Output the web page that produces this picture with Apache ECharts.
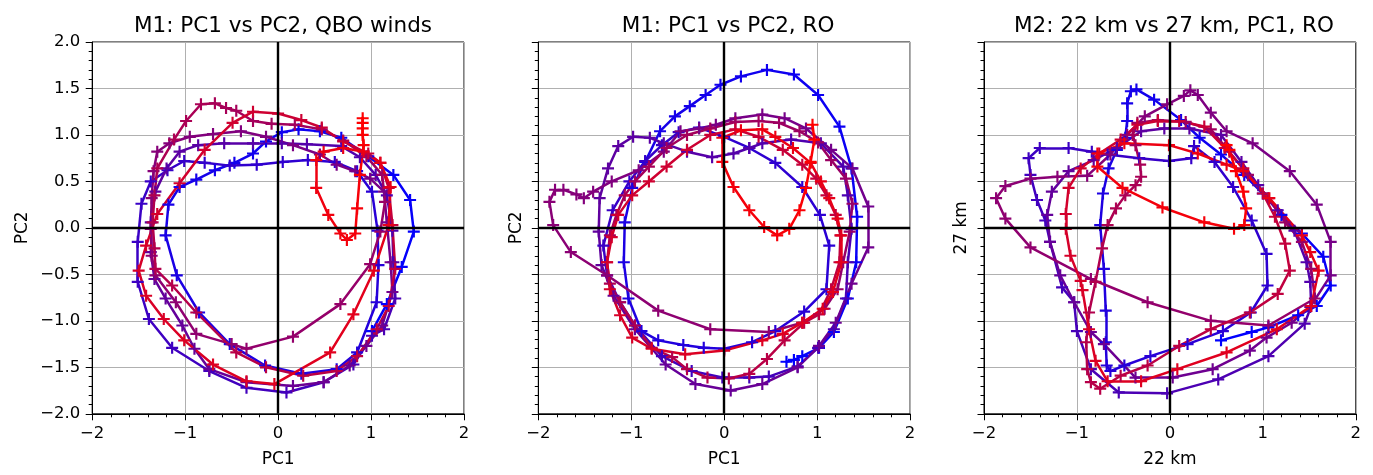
<!DOCTYPE html>
<html>
<head>
<meta charset="utf-8">
<script src="https://cdn.jsdelivr.net/npm/echarts@6/dist/echarts.min.js"></script>
<style>
html,body{margin:0;padding:0;background:#fff;}
#c{width:1373px;height:475px;}
</style>
</head>
<body>
<div id="c"></div>
<script>
// ---- Data, in time order: blue (early) -> red (late)
const titles = ['M1: PC1 vs PC2, QBO winds', 'M1: PC1 vs PC2, RO', 'M2: 22 km vs 27 km, PC1, RO'];
const xNames = ['PC1', 'PC1', '22 km'];
const yNames = ['PC2', 'PC2', '27 km'];

const m1QboPath = [
[1.01,-1.11],[1.17,-0.82],[1.33,-0.42],[1.46,-0.04],[1.42,0.30],[1.24,0.57],[0.97,0.77],[0.68,0.97],[0.45,1.04],[0.22,1.06],[0.04,1.03],[-0.13,0.93],[-0.27,0.80],[-0.47,0.70],[-0.68,0.62],[-0.88,0.52],[-1.06,0.44],[-1.18,0.25],[-1.21,-0.08],[-1.09,-0.51],[-0.85,-0.91],[-0.52,-1.25],[-0.14,-1.48],[0.25,-1.57],[0.63,-1.52],[0.85,-1.34],
[1.06,-0.80],[1.08,-0.40],[1.07,-0.03],[1.01,0.39],[0.85,0.61],[0.61,0.71],[0.32,0.73],[0.05,0.71],[-0.23,0.68],[-0.52,0.67],[-0.79,0.70],[-1.01,0.72],[-1.19,0.62],[-1.37,0.50],[-1.47,0.26],[-1.51,-0.15],[-1.51,-0.58],[-1.39,-0.98],[-1.14,-1.29],[-0.74,-1.54],[-0.34,-1.72],[0.09,-1.77],[0.49,-1.66],[0.81,-1.47],[1.01,-1.16],
[1.14,-1.09],[1.26,-0.76],[1.24,-0.37],[1.23,-0.03],[1.17,0.35],[1.05,0.57],[0.88,0.76],[0.68,0.88],[0.31,0.90],[0.04,0.91],[-0.27,0.91],[-0.58,0.91],[-0.86,0.89],[-1.06,0.82],[-1.20,0.64],[-1.32,0.39],[-1.37,0.06],[-1.37,-0.26],[-1.33,-0.55],[-1.21,-0.76],[-1.03,-1.05],[-0.90,-1.30],[-0.74,-1.52],[-0.34,-1.66],[0.16,-1.70],[0.49,-1.66],[0.77,-1.48],[0.95,-1.27],
[1.12,-1.05],[1.23,-0.69],[1.21,-0.37],[1.17,0.06],[1.14,0.39],[0.99,0.53],[0.83,0.61],[0.63,0.68],[0.45,0.79],[0.16,0.89],[-0.13,0.98],[-0.40,1.04],[-0.70,1.01],[-0.95,0.98],[-1.17,0.91],[-1.30,0.82],[-1.34,0.61],[-1.36,0.32],[-1.37,-0.01],[-1.36,-0.30],[-1.32,-0.51],[-1.10,-0.80],[-0.88,-1.14],[-0.50,-1.25],[-0.34,-1.30],[0.16,-1.17],[0.67,-0.82],[0.99,-0.39],[1.10,-0.04],
[1.15,0.28],[1.12,0.57],[0.95,0.77],[0.70,0.94],[0.47,1.06],[0.18,1.11],[-0.07,1.12],[-0.27,1.15],[-0.45,1.26],[-0.56,1.29],[-0.68,1.34],[-0.83,1.33],[-0.99,1.15],[-1.12,0.95],[-1.30,0.64],[-1.33,0.35],[-1.35,0.06],[-1.33,-0.22],[-1.32,-0.44],[-1.14,-0.62],[-0.88,-0.91],[-0.45,-1.34],[-0.13,-1.50],[0.27,-1.59],[0.63,-1.54],[0.85,-1.38],[1.06,-1.09],[1.19,-0.84],[1.26,-0.44],[1.23,0.03],[1.19,0.43],[1.10,0.70],[0.97,0.80],
[0.70,0.93],[0.47,1.08],[0.25,1.16],[0.00,1.23],[-0.27,1.25],[-0.49,1.13],[-0.79,0.84],[-1.06,0.48],[-1.30,0.15],[-1.42,-0.19],[-1.50,-0.46],[-1.42,-0.73],[-1.23,-0.98],[-1.01,-1.21],[-0.70,-1.47],[-0.34,-1.65],[-0.04,-1.68],[0.56,-1.34],[0.81,-0.93],[1.03,-0.46],[1.19,0.03],[1.21,0.44],[1.10,0.70],[0.92,0.82],[0.70,0.86],[0.49,0.82],[0.41,0.73],[0.41,0.43],[0.54,0.14],[0.67,-0.06],[0.74,-0.13],[0.83,-0.06],[0.85,0.21],[0.88,0.57],[0.92,0.89],[0.91,1.00],[0.91,1.07],[0.91,1.13],[0.91,1.18]
];

const m1RoPath = [
[0.67,-1.44],[0.75,-1.42],[0.84,-1.38],[1.02,-1.29],[1.18,-1.12],[1.33,-0.76],[1.42,-0.37],[1.43,0.12],[1.37,0.64],[1.24,1.09],[1.01,1.43],[0.75,1.65],[0.46,1.70],[0.18,1.63],[-0.04,1.54],[-0.20,1.43],[-0.37,1.31],[-0.53,1.20],[-0.69,1.04],[-0.85,0.71],[-0.99,0.43],[-1.07,0.06],[-1.08,-0.37],[-1.03,-0.76],[-0.89,-1.11],[-0.71,-1.21],[-0.44,-1.26],[-0.22,-1.29],[0.00,-1.30],[0.30,-1.23],[0.55,-1.11],[0.86,-0.90],
[1.10,-0.66],[1.13,-0.19],[1.03,0.14],[0.84,0.44],[0.55,0.70],[0.27,0.86],[0.00,0.98],[-0.27,1.08],[-0.49,1.03],[-0.67,0.89],[-0.85,0.72],[-1.02,0.50],[-1.20,0.19],[-1.30,-0.19],[-1.26,-0.51],[-1.12,-0.80],[-0.96,-1.05],[-0.67,-1.38],[-0.35,-1.54],[-0.02,-1.61],[0.27,-1.61],[0.48,-1.60],[0.79,-1.49],[1.01,-1.29],[1.18,-1.09],[1.31,-0.76],
[1.33,-0.37],[1.37,-0.01],[1.33,0.35],[1.28,0.66],[1.04,0.91],[0.72,0.95],[0.41,0.91],[0.27,0.86],[0.10,0.80],[-0.13,0.76],[-0.40,0.82],[-0.65,0.91],[-0.80,0.97],[-0.98,0.98],[-1.14,0.88],[-1.25,0.64],[-1.34,0.32],[-1.35,-0.04],[-1.32,-0.40],[-1.19,-0.73],[-0.96,-1.09],[-0.63,-1.47],[-0.31,-1.68],[0.07,-1.75],[0.41,-1.68],[0.79,-1.50],[1.02,-1.27],[1.20,-1.02],
[1.37,-0.60],[1.55,-0.21],[1.55,0.23],[1.38,0.64],[1.15,0.84],[0.88,1.07],[0.65,1.18],[0.41,1.22],[0.12,1.18],[-0.09,1.11],[-0.27,1.07],[-0.47,1.04],[-0.65,0.82],[-0.92,0.62],[-1.21,0.50],[-1.41,0.39],[-1.51,0.32],[-1.59,0.36],[-1.73,0.41],[-1.82,0.41],[-1.88,0.28],[-1.84,0.03],[-1.65,-0.26],[-1.26,-0.51],[-0.71,-0.89],[-0.15,-1.09],[0.48,-1.12],[0.84,-1.02],[1.08,-0.87],[1.22,-0.66],
[1.28,-0.37],[1.35,-0.04],[1.38,0.26],[1.31,0.53],[1.15,0.73],[1.01,0.92],[0.81,1.04],[0.59,1.13],[0.37,1.15],[0.12,1.14],[-0.15,1.07],[-0.40,1.00],[-0.62,0.86],[-0.81,0.66],[-0.96,0.50],[-1.07,0.35],[-1.16,0.14],[-1.23,-0.08],[-1.26,-0.37],[-1.23,-0.60],[-1.12,-0.80],[-0.96,-1.05],[-0.78,-1.29],[-0.56,-1.39],[-0.40,-1.52],[-0.18,-1.61],[0.05,-1.62],[0.27,-1.57],[0.46,-1.41],[0.65,-1.21],[0.86,-1.02],[1.02,-0.93],
[1.15,-0.66],[1.24,-0.37],[1.25,-0.08],[1.20,0.14],[1.10,0.35],[0.99,0.53],[0.84,0.68],[0.63,0.84],[0.37,0.98],[0.12,1.06],[-0.15,1.00],[-0.40,0.84],[-0.62,0.66],[-0.81,0.50],[-0.99,0.35],[-1.14,0.14],[-1.21,-0.10],[-1.26,-0.37],[-1.23,-0.66],[-1.12,-0.94],[-0.99,-1.18],[-0.78,-1.30],[-0.42,-1.36],[0.00,-1.32],[0.41,-1.21],[0.63,-1.14],[0.84,-1.02],[1.06,-0.87],[1.17,-0.69],[1.26,-0.37],[1.26,-0.08],[1.22,0.10],[1.13,0.32],[1.04,0.50],[0.93,0.70],[0.74,0.86],[0.55,0.98],[0.41,1.06],[0.18,1.05],[-0.02,0.97],[-0.02,0.71],[0.10,0.44],[0.27,0.19],[0.43,0.01],[0.57,-0.08],[0.70,-0.01],[0.81,0.19],[0.88,0.43],[0.93,0.71],[0.97,0.95],[0.95,1.11]
];

const m2RoPath = [
[0.55,-1.21],[0.88,-1.12],[1.06,-1.07],[1.38,-0.94],[1.58,-0.84],[1.73,-0.62],[1.65,-0.31],[1.42,-0.06],[1.20,0.14],[1.00,0.37],[0.80,0.57],[0.55,0.79],[0.32,0.97],[0.12,1.16],[-0.17,1.38],[-0.36,1.49],[-0.42,1.47],[-0.46,1.34],[-0.46,1.15],[-0.48,0.97],[-0.57,0.84],[-0.66,0.64],[-0.72,0.37],[-0.75,0.03],[-0.71,-0.44],[-0.69,-0.89],[-0.69,-1.23],[-0.68,-1.48],[-0.64,-1.54],[-0.49,-1.48],[-0.21,-1.38],[0.19,-1.25],[0.57,-1.11],[0.87,-0.91],[1.05,-0.62],[1.04,-0.28],[0.88,0.08],[0.68,0.44],[0.48,0.71],[0.26,0.88],
[0.23,0.75],[-0.01,0.72],[-0.33,0.75],[-0.67,0.79],[-0.84,0.82],[-1.09,0.86],[-1.40,0.86],[-1.52,0.75],[-1.50,0.57],[-1.43,0.30],[-1.34,0.08],[-1.29,-0.15],[-1.16,-0.64],[-1.03,-0.80],[-1.00,-1.11],[-0.85,-1.52],[-0.55,-1.77],[-0.03,-1.78],[0.52,-1.63],[1.06,-1.38],[1.45,-1.03],[1.52,-0.84],
[1.51,-0.58],[1.47,-0.37],[1.34,-0.03],[1.16,0.19],[0.95,0.46],[0.77,0.71],[0.55,1.00],[0.21,1.07],[-0.06,1.07],[-0.31,1.04],[-0.57,0.86],[-0.82,0.73],[-1.09,0.61],[-1.27,0.39],[-1.32,0.14],[-1.29,-0.15],[-1.18,-0.51],[-1.03,-0.80],[-0.85,-1.12],[-0.71,-1.25],[-0.37,-1.61],[0.03,-1.61],[0.46,-1.52],[0.86,-1.32],[1.04,-1.18],[1.31,-1.02],[1.51,-0.85],
[1.73,-0.51],[1.73,-0.15],[1.58,0.25],[1.29,0.61],[0.89,0.91],[0.61,1.04],[0.44,1.24],[0.30,1.43],[0.22,1.48],[0.15,1.42],[-0.03,1.33],[-0.27,1.20],[-0.46,1.00],[-0.64,0.79],[-0.89,0.56],[-1.21,0.55],[-1.50,0.53],[-1.77,0.45],[-1.87,0.32],[-1.77,0.10],[-1.50,-0.21],[-0.85,-0.55],[-0.24,-0.80],[0.44,-1.00],[1.06,-1.05],[1.56,-0.76],
[1.52,-0.44],[1.42,-0.15],[1.24,0.06],[1.06,0.32],[0.84,0.57],[0.64,0.82],[0.44,1.06],[0.17,1.14],[-0.13,1.16],[-0.35,1.13],[-0.40,1.00],[-0.37,0.89],[-0.32,0.68],[-0.31,0.55],[-0.37,0.46],[-0.48,0.35],[-0.58,0.21],[-0.67,0.03],[-0.73,-0.22],[-0.80,-0.58],[-0.87,-0.91],[-0.90,-1.23],[-0.89,-1.52],[-0.85,-1.66],[-0.75,-1.73],[-0.53,-1.59],[-0.24,-1.48],[0.10,-1.27],[0.44,-1.09],[0.86,-0.91],[1.16,-0.71],[1.29,-0.46],[1.24,-0.17],[1.13,0.12],[1.00,0.37],[0.79,0.64],[0.59,0.86],[0.37,1.09],[0.10,1.15],[-0.13,1.15],[-0.35,1.11],[-0.53,0.95],
[-0.76,0.80],[-0.96,0.64],[-1.09,0.43],[-1.12,0.15],[-1.12,-0.01],[-1.07,-0.30],[-0.96,-0.57],[-0.94,-0.67],[-0.87,-1.09],[-0.80,-1.43],[-0.67,-1.65],[-0.31,-1.65],[0.08,-1.52],[0.61,-1.34],[1.15,-1.09],[1.52,-0.84],[1.60,-0.46],[1.51,-0.26],[1.42,-0.08],[1.07,0.32],[0.79,0.61],[0.61,0.68],[0.30,0.80],[-0.01,0.89],[-0.49,0.91],[-0.78,0.80],[-0.78,0.66],[-0.51,0.43],[-0.08,0.22],[0.37,0.06],[0.69,-0.01],[0.80,0.03],[0.82,0.21],[0.79,0.39],[0.71,0.61],[0.64,0.84],[0.61,0.89]
];

const paths = [m1QboPath, m1RoPath, m2RoPath];

// ---- Layout / style
const FONT = 'DejaVu Sans';
const gridLefts = [92.2, 538.3, 984];
const gridTop = 42, gridSize = 371.8;
const titleCenters = [278, 723, 1169];
const yNameGaps = [61, 13, 14];
const PLUS = 'path://M41,0H59V41H100V59H59V100H41V59H0V41H41Z';

function colorAt(t) {
  const r = Math.round(255 * t), b = Math.round(255 * (1 - t));
  return 'rgb(' + r + ',0,' + b + ')';
}
function minusFmt(s) { return String(s).replace('-', '\u2212'); }

const grid = [], xAxis = [], yAxis = [], series = [], title = [];
for (let k = 0; k < 3; k++) {
  grid.push({left: gridLefts[k], top: gridTop, width: gridSize, height: gridSize,
    show: true, borderColor: '#000', borderWidth: 1, backgroundColor: '#fff'});
  title.push({text: titles[k], left: titleCenters[k], top: 10, textAlign: 'center',
    textStyle: {fontFamily: FONT, fontSize: 21.5, fontWeight: 'normal', color: '#000'}});
  const common = {
    gridIndex: k, type: 'value', min: -2, max: 2,
    axisLine: {show: true, onZero: false, lineStyle: {color: '#000', width: 1}},
    axisTick: {show: true, length: 6.5, lineStyle: {color: '#000', width: 1}},
    minorTick: {show: true, splitNumber: 5, length: 3.5, lineStyle: {color: '#000', width: 1}},
    splitLine: {show: true, lineStyle: {color: '#b0b0b0', width: 1}},
    nameLocation: 'middle',
    nameTextStyle: {fontFamily: FONT, fontSize: 17, color: '#000'}
  };
  xAxis.push(Object.assign({}, common, {
    interval: 1, name: xNames[k], nameGap: 37,
    axisLabel: {fontFamily: FONT, fontSize: 16.5, color: '#000', margin: 11,
      formatter: v => minusFmt(v)}
  }));
  yAxis.push(Object.assign({}, common, {
    interval: 0.5, name: yNames[k], nameGap: yNameGaps[k],
    axisLabel: {show: k === 0, fontFamily: FONT, fontSize: 16.5, color: '#000', margin: 12,
      formatter: v => minusFmt(v.toFixed(1))}
  }));

  const p = paths[k], n = p.length;
  // zero reference lines
  series.push({type: 'line', xAxisIndex: k, yAxisIndex: k, data: [], z: 1, silent: true,
    markLine: {silent: true, symbol: 'none', animation: false, label: {show: false},
      lineStyle: {color: '#000', width: 2.4, type: 'solid'},
      data: [{xAxis: 0}, {yAxis: 0}]}});
  const segs = [];
  for (let i = 0; i < n - 1; i++) {
    segs.push({coords: [p[i], p[i + 1]], lineStyle: {color: colorAt((i + 0.5) / (n - 1))}});
  }
  series.push({type: 'lines', coordinateSystem: 'cartesian2d', xAxisIndex: k, yAxisIndex: k,
    z: 2, silent: true, data: segs,
    lineStyle: {width: 2.5, opacity: 1, cap: 'round', join: 'round'}});
  series.push({type: 'scatter', xAxisIndex: k, yAxisIndex: k, z: 3, silent: true,
    symbol: PLUS, symbolSize: 12,
    data: p.map((d, i) => ({value: d, itemStyle: {color: colorAt(i / (n - 1)), opacity: 1}}))});
}

const chart = echarts.init(document.getElementById('c'), null, {renderer: 'canvas'});
chart.setOption({
  backgroundColor: '#fff',
  animation: false,
  title: title, grid: grid, xAxis: xAxis, yAxis: yAxis, series: series
});
</script>
</body>
</html>
